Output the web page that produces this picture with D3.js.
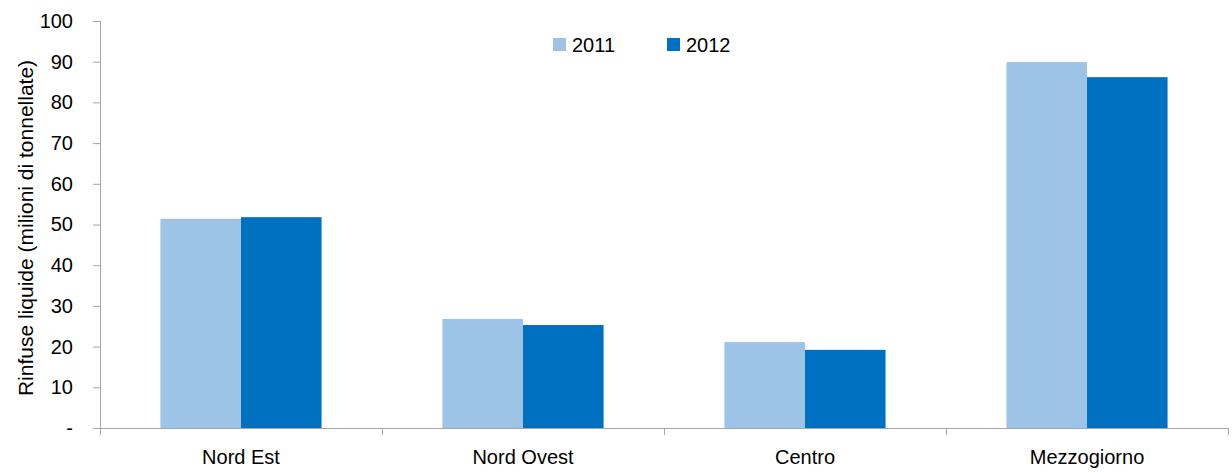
<!DOCTYPE html>
<html>
<head>
<meta charset="utf-8">
<script src="https://cdn.jsdelivr.net/npm/d3@7"></script>
<style>
body { margin: 0; background: #fff; }
text { font-family: "Liberation Sans", Arial, sans-serif; fill: #000; }
</style>
</head>
<body>
<svg width="1232" height="473"></svg>
<script>
var categories = ["Nord Est", "Nord Ovest", "Centro", "Mezzogiorno"];
var years = ["2011", "2012"];
var values2011 = [51.4, 26.8, 21.1, 89.9];
var values2012 = [51.8, 25.3, 19.2, 86.2];
var yTicks = [0, 10, 20, 30, 40, 50, 60, 70, 80, 90, 100];
var colors = ["#9DC3E6", "#0070C0"];

var svg = d3.select("svg");
var mLeft = 100, mRight = 1228, mTop = 21, mBottom = 428;

var x = d3.scaleBand().domain(categories).range([mLeft, mRight]).paddingInner(0).paddingOuter(0);
var xInner = d3.scaleBand().domain(years).range([0, x.bandwidth()]).paddingInner(0).paddingOuter(0.75);
var y = d3.scaleLinear().domain([0, 100]).range([mBottom, mTop]);

var data = categories.map(function(c, i) {
  return { cat: c, vals: [values2011[i], values2012[i]] };
});

// bars
var groups = svg.append("g").selectAll("g")
  .data(data)
  .enter().append("g")
    .attr("transform", function(d) { return "translate(" + x(d.cat) + ",0)"; });

groups.selectAll("rect")
  .data(function(d) { return d.vals.map(function(v, i) { return { year: years[i], v: v, i: i }; }); })
  .enter().append("rect")
    .attr("x", function(d) { return xInner(d.year); })
    .attr("width", xInner.bandwidth())
    .attr("y", function(d) { return y(d.v); })
    .attr("height", function(d) { return mBottom - y(d.v); })
    .attr("fill", function(d) { return colors[d.i]; });

// y axis
var yAxis = d3.axisLeft(y).tickValues(yTicks).tickSize(7).tickPadding(20)
  .tickFormat(function(d) { return d === 0 ? "-" : d; });
var gy = svg.append("g").attr("transform", "translate(" + mLeft + ",0)").call(yAxis);
gy.select(".domain").attr("stroke", "#A6A6A6").attr("d", "M0.5," + mTop + "V" + mBottom);
gy.selectAll(".tick line").attr("stroke", "#A6A6A6");
gy.selectAll(".tick text").attr("font-size", "20px").attr("font-family", "Liberation Sans, Arial, sans-serif").attr("fill", "#000");

// x axis
var xAxis = d3.axisBottom(x).tickSize(0).tickPadding(22);
var gx = svg.append("g").attr("transform", "translate(0," + mBottom + ")").call(xAxis);
gx.select(".domain").attr("stroke", "#A6A6A6").attr("d", "M" + (mLeft - 7) + ",0.5H" + mRight);
gx.selectAll(".tick text").attr("font-size", "20px").attr("font-family", "Liberation Sans, Arial, sans-serif").attr("fill", "#000");
// category separators
svg.append("g").selectAll("line")
  .data(categories.concat(["end"]))
  .enter().append("line")
    .attr("x1", function(d, i) { return mLeft + i * x.bandwidth() + 0.5; })
    .attr("x2", function(d, i) { return mLeft + i * x.bandwidth() + 0.5; })
    .attr("y1", mBottom).attr("y2", mBottom + 7)
    .attr("stroke", "#A6A6A6");

// y label
svg.append("text")
  .attr("transform", "translate(33,228) rotate(-90)")
  .attr("text-anchor", "middle")
  .attr("font-size", "21px")
  .text("Rinfuse liquide (milioni di tonnellate)");

// legend
var legendX = [553, 667];
var legend = svg.append("g").selectAll("g")
  .data(years)
  .enter().append("g")
    .attr("transform", function(d, i) { return "translate(" + legendX[i] + ",38)"; });
legend.append("rect").attr("width", 13).attr("height", 13)
  .attr("fill", function(d, i) { return colors[i]; });
legend.append("text").attr("x", 19).attr("y", 14).attr("font-size", "20px").text(function(d) { return d; });
</script>
</body>
</html>
